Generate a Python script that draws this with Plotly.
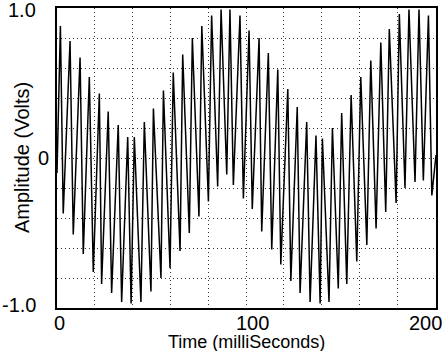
import plotly.graph_objects as go

# Peaks (time in ms, amplitude in V)
peak_t = [1.8, 6.9, 12.2, 17.1, 22.4, 27.1, 32.4, 37.4, 40.9, 46.2,
          51.0, 56.3, 61.5, 66.5, 71.6, 76.6, 81.8, 86.8, 91.5, 96.8,
          101.6, 106.9, 111.8, 116.8, 122.1, 127.1, 132.1, 137.0, 140.4, 145.7,
          150.6, 155.6, 160.7, 166.0, 171.3, 175.8, 181.1, 186.2, 191.5, 196.5]
peak_v = [0.88, 0.78, 0.67, 0.54, 0.43, 0.31, 0.22, 0.14, 0.14, 0.24,
          0.33, 0.45, 0.57, 0.69, 0.80, 0.88, 0.95, 0.99, 0.99, 0.95,
          0.85, 0.80, 0.70, 0.59, 0.46, 0.34, 0.24, 0.15, 0.13, 0.20,
          0.30, 0.42, 0.54, 0.65, 0.77, 0.86, 0.96, 0.99, 0.99, 0.95]

# Troughs (time in ms, amplitude in V)
trough_t = [3.3, 8.6, 13.9, 19.2, 23.6, 28.9, 34.2, 39.2, 44.4, 49.7,
            55.0, 59.8, 65.1, 70.0, 75.1, 80.1, 85.0, 89.8, 93.3, 98.6,
            103.3, 108.3, 113.6, 118.4, 123.7, 128.6, 133.9, 139.2, 143.9, 148.8,
            153.3, 158.6, 163.9, 168.8, 173.9, 179.4, 184.1, 189.4, 193.8, 198.3]
trough_v = [-0.37, -0.51, -0.64, -0.76, -0.84, -0.90, -0.96, -0.97, -0.96, -0.89,
            -0.80, -0.735, -0.62, -0.50, -0.39, -0.29, -0.19, -0.11, -0.18, -0.27,
            -0.34, -0.49, -0.61, -0.71, -0.82, -0.90, -0.96, -0.97, -0.96, -0.87,
            -0.84, -0.69, -0.58, -0.47, -0.36, -0.30, -0.20, -0.16, -0.15, -0.25]

# Start and end samples at the plot edges
start_t, start_v = 0.0, -0.10
end_t, end_v = 200.5, 0.02

x_ticks = [0, 100, 200]
x_ticktext = ["0", "100", "200"]
y_ticks = [1.0, 0.0, -1.0]
y_ticktext = ["1.0", "0", "-1.0"]

x_title = "Time (milliSeconds)"
y_title = "Amplitude (Volts)"

# Merge vertices in time order
pts = [(start_t, start_v)] + list(zip(peak_t, peak_v)) + list(zip(trough_t, trough_v)) + [(end_t, end_v)]
pts.sort(key=lambda p: p[0])
t = [p[0] for p in pts]
v = [p[1] for p in pts]

fig = go.Figure()
fig.add_trace(go.Scatter(x=t, y=v, mode="lines",
                         line=dict(color="black", width=1.5),
                         showlegend=False, hoverinfo="skip"))

font_family = "Liberation Sans, Arial, sans-serif"
grid_color = "#333333"
grid_dash = "1px,3px"

fig.update_layout(
    template="none",
    width=448, height=361,
    margin=dict(l=57, r=12, t=8, b=53, autoexpand=False),
    paper_bgcolor="white", plot_bgcolor="white",
    font=dict(family=font_family, color="black"),
)
common = dict(
    showline=True, linecolor="black", linewidth=1.5, mirror=True,
    showgrid=True, gridcolor=grid_color, griddash=grid_dash, gridwidth=1,
    zeroline=False, ticks="", automargin=False, showticklabels=False,
)
fig.update_xaxes(
    range=[0, 200.5], tickvals=x_ticks,
    minor=dict(dtick=20, tick0=0, showgrid=True, gridcolor=grid_color, griddash=grid_dash, gridwidth=1),
    **common,
)
fig.update_yaxes(
    range=[-1.0, 1.0], tickvals=y_ticks,
    minor=dict(dtick=0.2, tick0=0, showgrid=True, gridcolor=grid_color, griddash=grid_dash, gridwidth=1),
    **common,
)

# Tick labels placed on the axis scales
x_shifts = [2, 6, -10]
for xv, txt, xs in zip(x_ticks, x_ticktext, x_shifts):
    fig.add_annotation(text=txt, xref="x", yref="paper", x=xv, y=0,
                       xanchor="center", yanchor="middle", xshift=xs, yshift=-15,
                       height=18, valign="middle", borderpad=0,
                       showarrow=False, font=dict(size=20))
y_xshifts = [-20, -7, -20]
y_yshifts = [-2, 0, 3]
for yv, txt, xs, ys in zip(y_ticks, y_ticktext, y_xshifts, y_yshifts):
    fig.add_annotation(text=txt, xref="paper", yref="y", x=0, y=yv,
                       xanchor="right", yanchor="middle", xshift=xs, yshift=ys,
                       height=18, valign="middle", borderpad=0,
                       showarrow=False, font=dict(size=20))

# Axis titles
fig.add_annotation(text=x_title, xref="paper", yref="paper", x=0.5, y=0,
                   xanchor="center", yanchor="middle", yshift=-34,
                   height=18, valign="middle", borderpad=0, showarrow=False,
                   font=dict(size=18))
fig.add_annotation(text=y_title, xref="paper", yref="paper", x=0, y=0.5,
                   xanchor="center", yanchor="middle", xshift=-35, textangle=-90,
                   showarrow=False, font=dict(size=20))

fig.write_html("out.html", config={"displayModeBar": False},
               post_script="document.body.style.margin='0';")
